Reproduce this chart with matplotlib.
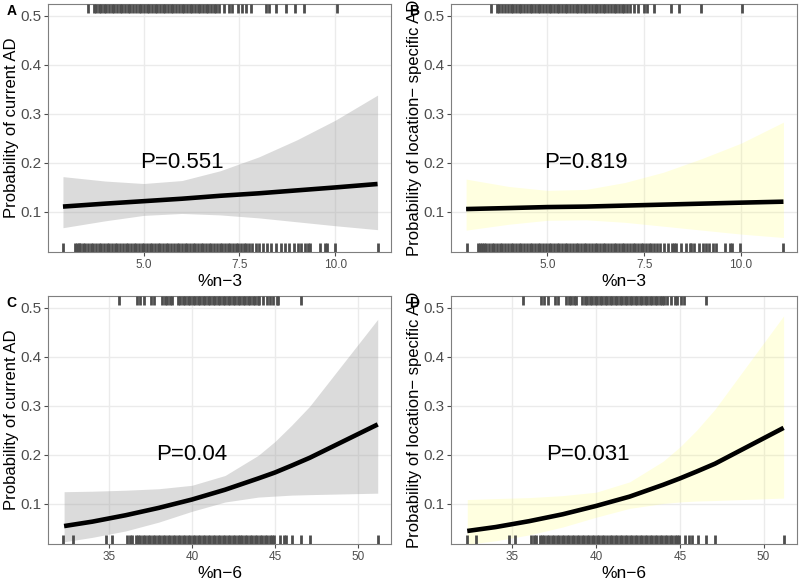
import numpy as np
import matplotlib
matplotlib.use("Agg")
import matplotlib.pyplot as plt
import matplotlib.transforms as mtransforms

plt.rcParams['font.family'] = ['Liberation Sans', 'DejaVu Sans']

# fitted curves, %n-3
n3_x = [2.9, 4, 5, 6, 7, 8, 9, 10, 11.1]
ad_n3_fit = [0.111, 0.117, 0.122, 0.127, 0.133, 0.138, 0.144, 0.150, 0.157]
ad_n3_hi = [0.172, 0.163, 0.158, 0.164, 0.184, 0.212, 0.247, 0.287, 0.338]
ad_n3_lo = [0.068, 0.082, 0.093, 0.097, 0.094, 0.088, 0.080, 0.072, 0.064]
loc_n3_fit = [0.106, 0.108, 0.110, 0.111, 0.113, 0.115, 0.117, 0.119, 0.121]
loc_n3_hi = [0.167, 0.152, 0.144, 0.146, 0.160, 0.181, 0.209, 0.240, 0.283]
loc_n3_lo = [0.063, 0.075, 0.083, 0.084, 0.079, 0.071, 0.063, 0.055, 0.048]

# fitted curves, %n-6
n6_x = [32.3, 34, 36, 38, 40, 42, 44, 45, 46, 47.1, 51.2]
ad_n6_fit = [0.055, 0.064, 0.077, 0.092, 0.109, 0.129, 0.152, 0.164, 0.178, 0.194, 0.262]
ad_n6_hi = [0.125, 0.126, 0.128, 0.131, 0.138, 0.158, 0.199, 0.227, 0.260, 0.299, 0.476]
ad_n6_lo = [0.023, 0.032, 0.045, 0.063, 0.085, 0.104, 0.114, 0.116, 0.118, 0.119, 0.122]
loc_n6_fit = [0.045, 0.053, 0.065, 0.079, 0.096, 0.115, 0.139, 0.152, 0.166, 0.182, 0.255]
loc_n6_hi = [0.109, 0.111, 0.113, 0.117, 0.124, 0.145, 0.187, 0.216, 0.250, 0.293, 0.483]
loc_n6_lo = [0.018, 0.025, 0.037, 0.053, 0.073, 0.091, 0.101, 0.104, 0.106, 0.107, 0.112]

# rug values (observed exposures)
ad_n3_cases = [3.55, 3.71, 3.77, 3.84, 3.90, 3.96, 4.03, 4.10, 4.17, 4.24, 4.31, 4.38, 4.45,
               4.52, 4.59, 4.66, 4.73, 4.80, 4.87, 4.94, 5.01, 5.08, 5.15, 5.22, 5.29, 5.36,
               5.43, 5.50, 5.57, 5.64, 5.71, 5.78, 5.85, 5.92, 5.99, 6.06, 6.13, 6.20, 6.27,
               6.34, 6.41, 6.48, 6.55, 6.62, 6.69, 6.76, 6.83, 6.90, 6.97, 7.11, 7.23, 7.31,
               7.47, 7.56, 7.66, 7.79, 8.18, 8.28, 8.44, 8.71, 8.96, 9.18, 10.03]
ad_n3_controls = [2.91, 3.21, 3.26, 3.31, 3.34, 3.41, 3.48, 3.55, 3.62, 3.69, 3.76, 3.83, 3.90,
                  3.97, 4.04, 4.11, 4.18, 4.25, 4.32, 4.39, 4.46, 4.53, 4.60, 4.67, 4.74, 4.81,
                  4.88, 4.95, 5.02, 5.09, 5.16, 5.23, 5.30, 5.37, 5.44, 5.51, 5.58, 5.65, 5.72,
                  5.79, 5.86, 5.93, 6.00, 6.07, 6.14, 6.21, 6.28, 6.35, 6.42, 6.49, 6.56, 6.63,
                  6.70, 6.77, 6.84, 6.91, 6.98, 7.05, 7.12, 7.19, 7.26, 7.33, 7.40, 7.47, 7.54,
                  7.61, 7.68, 7.75, 7.83, 7.92, 8.01, 8.12, 8.22, 8.33, 8.45, 8.57, 8.68, 8.80,
                  8.91, 9.02, 9.11, 9.20, 9.28, 9.35, 9.60, 9.72, 9.77, 9.99, 11.10]
loc_n3_cases = [3.54, 3.70, 3.76, 3.83, 3.91, 3.98, 4.05, 4.12, 4.19, 4.26, 4.33, 4.40, 4.47,
                4.54, 4.61, 4.68, 4.75, 4.82, 4.89, 4.96, 5.03, 5.10, 5.17, 5.24, 5.31, 5.38,
                5.45, 5.52, 5.59, 5.66, 5.73, 5.80, 5.87, 5.94, 6.01, 6.08, 6.15, 6.22, 6.29,
                6.36, 6.43, 6.50, 6.57, 6.64, 6.71, 6.78, 6.85, 6.92, 6.99, 7.06, 7.13, 7.24,
                7.34, 7.50, 7.58, 7.75, 8.19, 8.40, 8.96, 10.02]
loc_n3_controls = [2.92, 3.22, 3.27, 3.32, 3.35, 3.42, 3.49, 3.56, 3.63, 3.70, 3.77, 3.84, 3.91,
                   3.98, 4.05, 4.12, 4.19, 4.26, 4.33, 4.40, 4.47, 4.54, 4.61, 4.68, 4.75, 4.82,
                   4.89, 4.96, 5.03, 5.10, 5.17, 5.24, 5.31, 5.38, 5.45, 5.52, 5.59, 5.66, 5.73,
                   5.80, 5.87, 5.94, 6.01, 6.08, 6.15, 6.22, 6.29, 6.36, 6.43, 6.50, 6.57, 6.64,
                   6.71, 6.78, 6.85, 6.92, 6.99, 7.06, 7.13, 7.20, 7.27, 7.34, 7.41, 7.48, 7.55,
                   7.62, 7.69, 7.76, 7.83, 7.92, 8.01, 8.12, 8.22, 8.28, 8.33, 8.44, 8.57, 8.68,
                   8.71, 8.80, 8.91, 9.02, 9.11, 9.18, 9.28, 9.35, 9.60, 9.72, 9.77, 9.99, 11.10]
n6_cases = [35.62, 36.70, 36.86, 37.10, 37.56, 37.70, 38.22, 38.36, 38.50, 38.66, 38.82,
            39.16, 39.31, 39.46, 39.61, 39.76, 39.91, 40.06, 40.21, 40.36, 40.51, 40.66,
            40.81, 40.96, 41.11, 41.26, 41.41, 41.56, 41.71, 41.86, 42.01, 42.16, 42.31,
            42.46, 42.61, 42.76, 42.91, 43.06, 43.21, 43.36, 43.51, 43.66, 43.81, 43.96,
            44.06, 44.26, 44.50, 44.70, 44.86, 45.10, 45.22, 46.58]
n6_controls = [32.26, 32.82, 34.82, 35.16, 36.10, 36.26, 36.42, 36.62, 36.76, 36.90, 37.06,
               37.20, 37.35, 37.50, 37.65, 37.80, 37.95, 38.10, 38.25, 38.40, 38.55, 38.70,
               38.85, 39.00, 39.15, 39.30, 39.45, 39.60, 39.75, 39.90, 40.05, 40.20, 40.35,
               40.50, 40.65, 40.80, 40.95, 41.10, 41.25, 41.40, 41.55, 41.70, 41.85, 42.00,
               42.15, 42.30, 42.45, 42.60, 42.75, 42.90, 43.05, 43.20, 43.35, 43.50, 43.65,
               43.80, 43.95, 44.10, 44.25, 44.40, 44.55, 44.70, 44.85, 44.96, 45.30, 45.56,
               45.70, 46.06, 46.58, 47.12, 51.22]

p_labels = ["P=0.551", "P=0.819", "P=0.04", "P=0.031"]

panels = [
    ("A", [0.06, 0.567, 0.42875, 0.4261], n3_x, ad_n3_fit, ad_n3_lo, ad_n3_hi, "#999999", 0.35,
     ad_n3_cases, ad_n3_controls, "%n\u22123", "Probability of current AD", (6, 0.2)),
    ("B", [0.56375, 0.567, 0.4325, 0.4261], n3_x, loc_n3_fit, loc_n3_lo, loc_n3_hi, "#ffff66", 0.2,
     loc_n3_cases, loc_n3_controls, "%n\u22123", "Probability of location\u2212 specific AD", (6, 0.2)),
    ("C", [0.06, 0.0653, 0.42875, 0.4261], n6_x, ad_n6_fit, ad_n6_lo, ad_n6_hi, "#999999", 0.35,
     n6_cases, n6_controls, "%n\u22126", "Probability of current AD", (40, 0.2)),
    ("D", [0.56375, 0.0653, 0.4325, 0.4261], n6_x, loc_n6_fit, loc_n6_lo, loc_n6_hi, "#ffff66", 0.2,
     n6_cases, n6_controls, "%n\u22126", "Probability of location\u2212 specific AD", (39.5, 0.2)),
]

fig = plt.figure(figsize=(8, 5.82), dpi=100)

for i, (tag, pos, x, fit, lo, hi, fc, fa, cases, controls, xlab, ylab, ppos) in enumerate(panels):
    ax = fig.add_axes(pos)
    ax.set_axisbelow(True)
    ax.grid(True, color="#ebebeb", lw=1.0)
    ax.fill_between(x, lo, hi, color=fc, alpha=fa, lw=0, zorder=2)
    ax.plot(x, fit, color="black", lw=3.3, solid_capstyle="butt", zorder=3)

    trans = mtransforms.blended_transform_factory(ax.transData, ax.transAxes)
    ax.vlines(cases, 0.965, 1.0, transform=trans, color="#4d4d4d", lw=2.0, zorder=4)
    ax.vlines(controls, 0.0, 0.035, transform=trans, color="#4d4d4d", lw=2.0, zorder=4)

    ax.text(ppos[0], ppos[1], p_labels[i], fontsize=16, ha="center", va="center", zorder=5)

    if i < 2:
        ax.set_xlim(2.51, 11.45)
        ax.set_xticks([5.0, 7.5, 10.0])
        ax.set_xticklabels(["5.0", "7.5", "10.0"])
    else:
        ax.set_xlim(31.33, 52.0)
        ax.set_xticks([35, 40, 45, 50])
    ax.set_ylim(0.0185, 0.5235)
    ax.set_yticks([0.1, 0.2, 0.3, 0.4, 0.5])
    ax.set_yticklabels(["0.1", "0.2", "0.3", "0.4", "0.5"])
    ax.tick_params(axis="x", labelsize=8.5, colors="#4d4d4d", length=3, width=0.8, pad=2)
    ax.tick_params(axis="y", labelsize=11, colors="#4d4d4d", length=3, width=0.8, pad=2)
    for s in ax.spines.values():
        s.set_color("#7f7f7f")
        s.set_linewidth(0.8)

    ax.set_xlabel(xlab, fontsize=12.5, labelpad=2)
    ax.set_ylabel(ylab, fontsize=12, labelpad=1)
    fig.text(pos[0] - 0.052, pos[1] + pos[3] - 0.012, tag, fontsize=10, fontweight="bold",
             ha="left", va="center")

fig.savefig("out.png", dpi=100)
